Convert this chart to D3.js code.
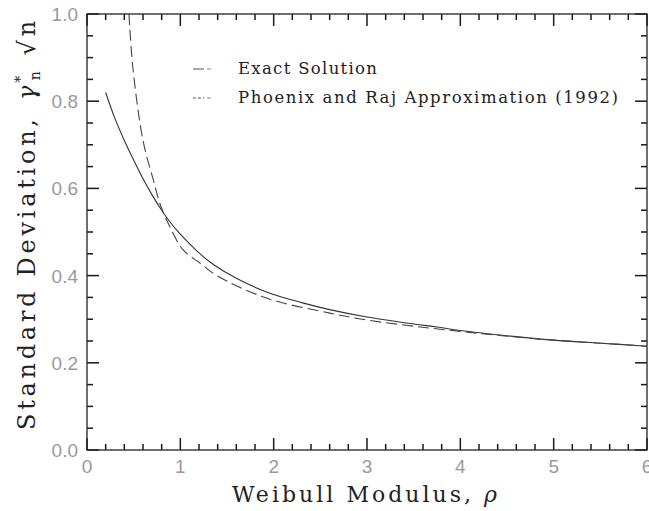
<!DOCTYPE html>
<html>
<head>
<meta charset="utf-8">
<script src="https://cdnjs.cloudflare.com/ajax/libs/d3/7.8.5/d3.min.js"></script>
<style>
	body { margin: 0; background: #fff; }
	svg { display: block; }
	.ticklabel { font-family: "Liberation Sans", sans-serif; font-size: 19px; fill: #9a9a9a; }
	.title { font-family: "DejaVu Serif", serif; fill: #222; }
</style>
</head>
<body>
<svg id="chart" width="649" height="511"></svg>
<script>
// weibull modulus values and std deviation
var exactX = [0.2, 0.3, 0.4, 0.5, 0.6, 0.7, 0.8, 0.9, 1.0, 1.2, 1.35, 1.6, 1.93, 2.3, 2.6, 3.0, 3.5, 3.75, 4.0, 4.5, 5.0, 5.5, 6.0];
var exactY = [0.82, 0.76, 0.71, 0.665, 0.622, 0.584, 0.55, 0.52, 0.495, 0.452, 0.426, 0.394, 0.362, 0.338, 0.322, 0.305, 0.289, 0.282, 0.274, 0.262, 0.252, 0.245, 0.238];

var phoenixX = [0.45, 0.49, 0.6, 0.71, 0.78, 0.87, 1.03, 1.21, 1.39, 1.93, 2.6, 3.0, 3.5, 4.0, 4.5, 5.0, 5.5, 6.0];
var phoenixY = [1.0, 0.88, 0.71, 0.62, 0.566, 0.52, 0.459, 0.429, 0.40, 0.348, 0.314, 0.298, 0.284, 0.272, 0.261, 0.252, 0.245, 0.238];

var xTicks = [0, 1, 2, 3, 4, 5, 6];
var yTicks = [0.0, 0.2, 0.4, 0.6, 0.8, 1.0];
var legendNames = ["Exact Solution", "Phoenix and Raj Approximation (1992)"];

var margin = {top: 14, right: 2, bottom: 61, left: 87};
var svg = d3.select("#chart");
var width = 649 - margin.left - margin.right;
var height = 511 - margin.top - margin.bottom;

var G = svg.append("g")
	.attr("transform", "translate(" + margin.left + "," + margin.top + ")");

var xScale = d3.scaleLinear().domain([0, 6]).range([0, width]);
var yScale = d3.scaleLinear().domain([0, 1]).range([height, 0]);

// inward ticks on all four sides, minor every 0.2 / 0.05
var xMinor = d3.range(0, 31).map(d => d / 5);
var yMinor = d3.range(0, 21).map(d => d / 20);
var isMajor = (v, majors) => majors.some(m => Math.abs(m - v) < 1e-6);

var xTickData = [];
xMinor.forEach(function(v) {
	var len = isMajor(v, xTicks) ? 12 : 6;
	xTickData.push({v: v, len: len, y: height - len});
	xTickData.push({v: v, len: len, y: 0});
});
var yTickData = [];
yMinor.forEach(function(v) {
	var len = isMajor(v, yTicks) ? 12 : 6;
	yTickData.push({v: v, len: len, x: 0});
	yTickData.push({v: v, len: len, x: width - len});
});

G.selectAll("rect.xt").data(xTickData).enter().append("rect")
	.attr("class", "xt")
	.attr("x", d => xScale(d.v) - 0.75)
	.attr("y", d => d.y)
	.attr("width", 1.5)
	.attr("height", d => d.len)
	.style("fill", "#1a1a1a");

G.selectAll("rect.yt").data(yTickData).enter().append("rect")
	.attr("class", "yt")
	.attr("x", d => d.x)
	.attr("y", d => yScale(d.v) - 0.75)
	.attr("width", d => d.len)
	.attr("height", 1.5)
	.style("fill", "#1a1a1a");

// frame
G.append("rect")
	.attr("width", width).attr("height", height)
	.attr("fill", "none").attr("stroke", "#222").attr("stroke-width", 1.3);

// tick labels
G.selectAll(".xlab").data(xTicks).enter().append("text")
	.attr("class", "ticklabel")
	.attr("x", d => xScale(d))
	.attr("y", height + 23)
	.attr("text-anchor", "middle")
	.text(d3.format("d"));

G.selectAll(".ylab").data(yTicks).enter().append("text")
	.attr("class", "ticklabel")
	.attr("x", -9)
	.attr("y", d => yScale(d) + 7)
	.attr("text-anchor", "end")
	.text(d3.format(".1f"));

svg.append("clipPath").attr("id", "plotclip")
	.append("rect").attr("width", width).attr("height", height);

var line = d3.line()
	.x(d => xScale(d[0]))
	.y(d => yScale(d[1]))
	.curve(d3.curveCatmullRom);

var lines = G.append("g").attr("clip-path", "url(#plotclip)");

lines.append("path")
	.datum(d3.zip(exactX, exactY))
	.attr("d", line)
	.attr("fill", "none")
	.attr("stroke", "#333")
	.attr("stroke-width", 1.1);

lines.append("path")
	.datum(d3.zip(phoenixX, phoenixY))
	.attr("d", line)
	.attr("fill", "none")
	.attr("stroke", "#444")
	.attr("stroke-width", 1.1)
	.attr("stroke-dasharray", "11,5");

// legend
var legend = svg.append("g");
var dashes = [null, "3,2"];
var legendWidths = [139, 380];
for (var i = 0; i < legendNames.length; i++) {
	var ly = 69 + i * 29;
	legend.append("line")
		.attr("x1", 193).attr("x2", 204)
		.attr("y1", ly).attr("y2", ly)
		.attr("stroke", "#555")
		.attr("stroke-dasharray", dashes[i]);
	legend.append("line")
		.attr("x1", 207).attr("x2", 211)
		.attr("y1", ly).attr("y2", ly)
		.attr("stroke", "#888");
	legend.append("text")
		.attr("class", "title")
		.attr("x", 238).attr("y", ly + 5)
		.attr("textLength", legendWidths[i])
		.attr("lengthAdjust", "spacing")
		.style("font-size", "16.5px")
		.text(legendNames[i]);
}

// axis titles
svg.append("text")
	.attr("class", "title")
	.attr("x", 232)
	.attr("y", 502)
	.attr("textLength", 265)
	.attr("lengthAdjust", "spacing")
	.style("font-size", "22px")
	.text("Weibull Modulus, ")
	.append("tspan")
	.style("font-style", "italic")
	.text("ρ");

var yTitle = svg.append("text")
	.attr("class", "title")
	.attr("transform", "translate(35,430) rotate(-90)")
	.style("font-size", "24px");
yTitle.append("tspan").text("Standard Deviation, ");
yTitle.append("tspan").attr("dx", 4).style("font-style", "italic").text("γ");
yTitle.append("tspan").attr("dy", -10).attr("dx", -1).style("font-size", "14px").text("*");
yTitle.append("tspan").attr("dy", 15).attr("dx", -8).style("font-size", "14px").text("n");
yTitle.append("tspan").attr("dy", -5).attr("dx", 12).text("√n");

// stretch the y title to the reference length
var natural = yTitle.node().getComputedTextLength();
yTitle.selectAll("tspan").style("letter-spacing", Math.max(0, (402 - natural) / 24).toFixed(2) + "px");
</script>
</body>
</html>
